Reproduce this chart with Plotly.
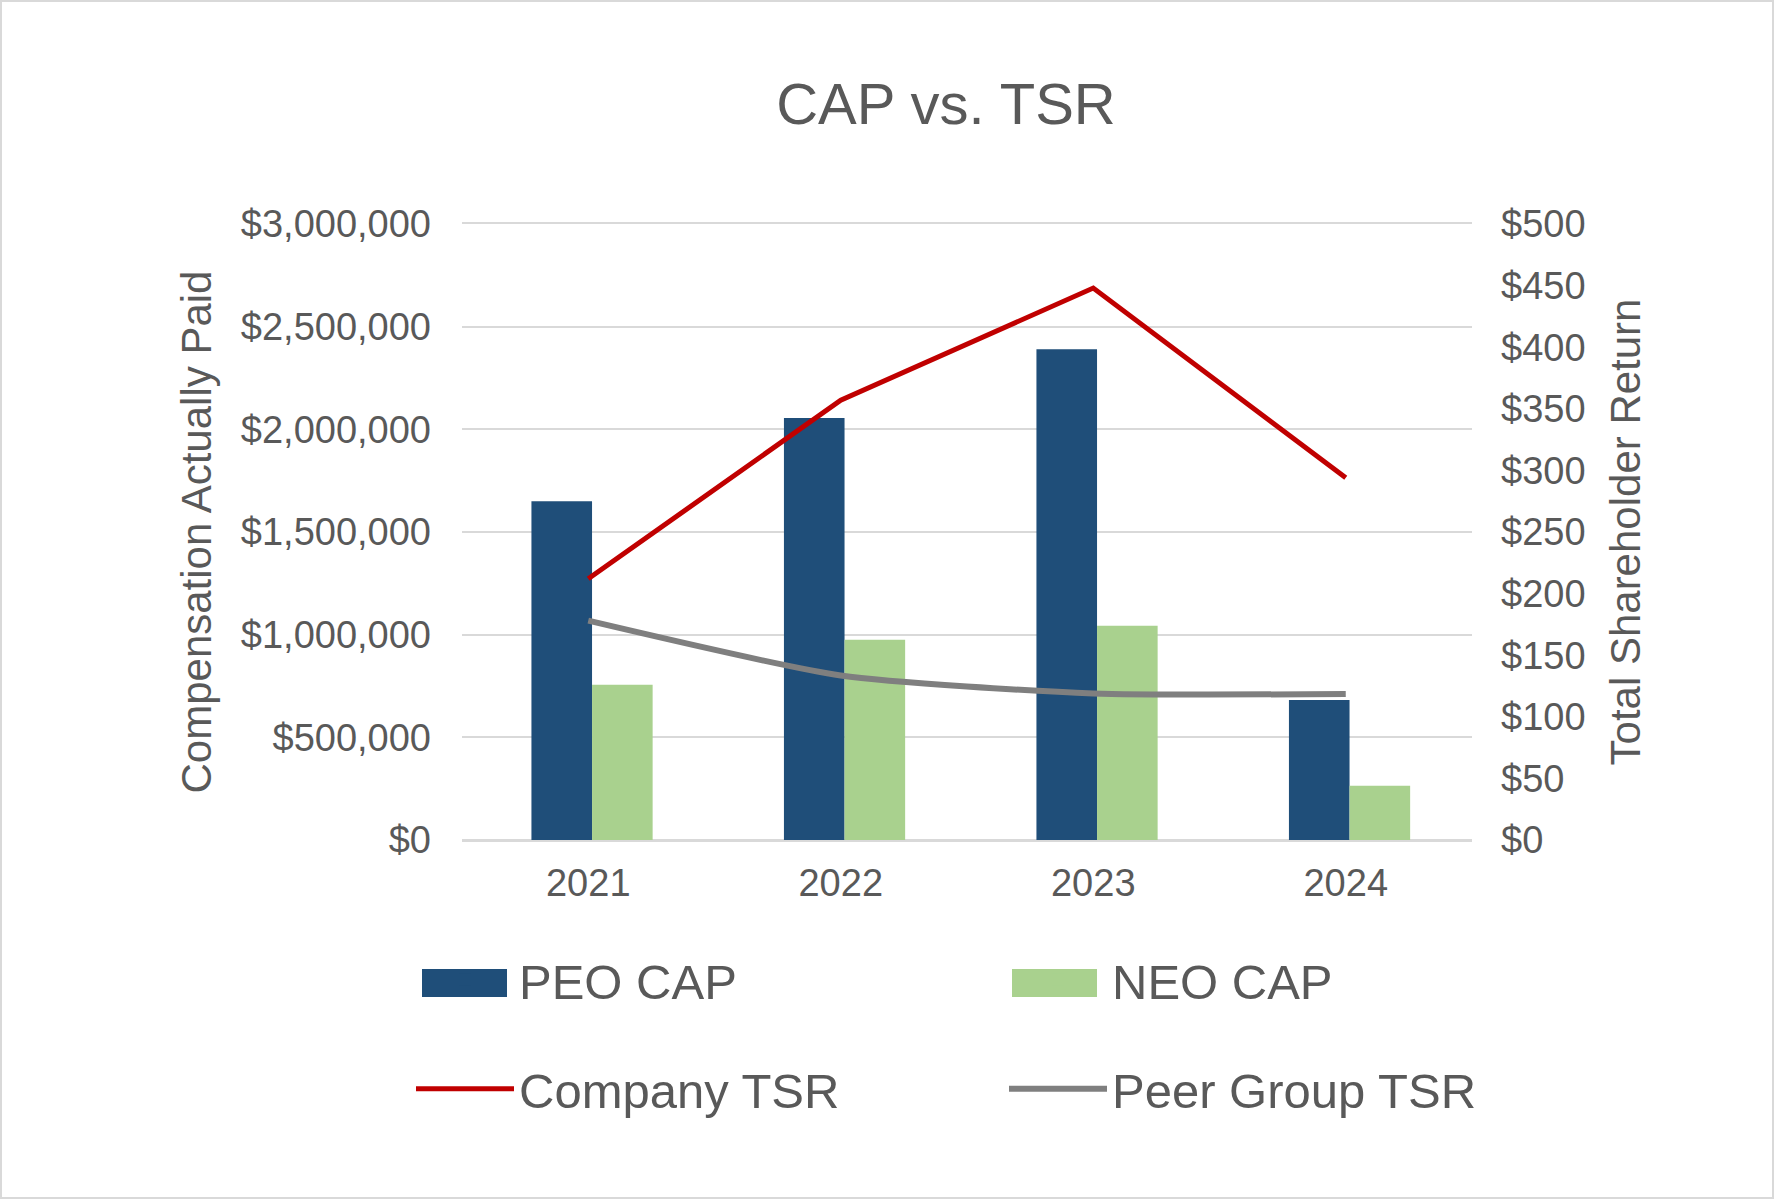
import plotly.graph_objects as go

years = ["2021", "2022", "2023", "2024"]
peo_cap = [1650000, 2055000, 2390000, 682000]
neo_cap = [756000, 975000, 1043000, 264000]
company_tsr = [212, 357, 448, 294]
peer_tsr = [178, 133.5, 119, 118.5]

FONT = "Liberation Sans, Arial, sans-serif"
TXT = "#595959"
C_PEO, C_NEO, C_CO, C_PEER = "#1F4E79", "#A9D18E", "#C00000", "#7F7F7F"

W, H = 1775, 1200
L, R, T, B = 462, 303, 224, 360
pw, ph = W - L - R, H - T - B

BAR_W = 0.24

def px_x(x):
    return (x - L) / pw

def px_y(y):
    return (H - B - y) / ph

fig = go.Figure()
fig.add_trace(go.Bar(x=years, y=peo_cap, name="PEO CAP", marker_color=C_PEO,
                     marker_line_width=0, legend="legend", width=BAR_W, offset=-BAR_W + 0.015))
fig.add_trace(go.Bar(x=years, y=neo_cap, name="NEO CAP", marker_color=C_NEO,
                     marker_line_width=0, legend="legend", width=BAR_W, offset=0.015))
fig.add_trace(go.Scatter(x=years, y=company_tsr, name="Company TSR", mode="lines",
                         line=dict(color=C_CO, width=5), yaxis="y2", legend="legend2"))
fig.add_trace(go.Scatter(x=years, y=peer_tsr, name="Peer Group TSR", mode="lines",
                         line=dict(color=C_PEER, width=6, shape="spline", smoothing=0.6),
                         yaxis="y2", legend="legend2"))

# wide rectangular legend keys for the bar series (Excel style)
key_shapes = []
for x0, col in [(422, C_PEO), (1012, C_NEO)]:
    key_shapes.append(dict(type="rect", xref="paper", yref="paper",
                           x0=px_x(x0), x1=px_x(x0 + 85), y0=px_y(997), y1=px_y(969),
                           line=dict(width=0), fillcolor=col, layer="above"))

border = dict(type="rect", xref="paper", yref="paper",
              x0=px_x(1), x1=px_x(W - 2), y0=px_y(H - 2), y1=px_y(1),
              line=dict(color="#D9D9D9", width=2), fillcolor="rgba(0,0,0,0)", layer="below")

fig.update_layout(
    width=W, height=H,
    margin=dict(l=L, r=R, t=T, b=B, autoexpand=False),
    paper_bgcolor="white", plot_bgcolor="white",
    font=dict(family=FONT, color=TXT, size=38),
    title=dict(text="CAP vs. TSR", x=946 / W, xanchor="center", y=1 - 104 / H,
               yanchor="middle", xref="container", yref="container",
               font=dict(size=58, color=TXT)),
    barmode="group",
    xaxis=dict(showgrid=False, showline=True, mirror=True, linecolor="#D9D9D9", linewidth=2,
               ticks="", tickfont=dict(size=38), ticklabelstandoff=8),
    yaxis=dict(range=[0, 3000000], dtick=500000, tickprefix="$", tickformat=",",
               showgrid=True, gridcolor="#D9D9D9", gridwidth=2, zeroline=True,
               zerolinecolor="#D9D9D9", zerolinewidth=2, ticks="",
               ticklabelstandoff=30, tickfont=dict(size=38),
               title=dict(text="Compensation Actually Paid", font=dict(size=42), standoff=16)),
    yaxis2=dict(range=[0, 500], dtick=50, tickprefix="$", overlaying="y", side="right",
                showgrid=False, zeroline=False, ticks="", ticklabelstandoff=28,
                tickfont=dict(size=38),
                title=dict(text="Total Shareholder Return", font=dict(size=42), standoff=26)),
    legend=dict(orientation="h", x=px_x(411), y=px_y(980), xanchor="left", yanchor="middle",
                entrywidth=480, entrywidthmode="pixels", itemwidth=98,
                font=dict(size=49, color=TXT), bgcolor="rgba(0,0,0,0)"),
    legend2=dict(orientation="h", x=px_x(411), y=px_y(1089), xanchor="left", yanchor="middle",
                 entrywidth=480, entrywidthmode="pixels", itemwidth=98,
                 font=dict(size=49, color=TXT), bgcolor="rgba(0,0,0,0)"),
    shapes=[border] + key_shapes,
)

fig.write_html("out.html", config={"displayModeBar": False},
               post_script="document.body.style.margin='0';")
